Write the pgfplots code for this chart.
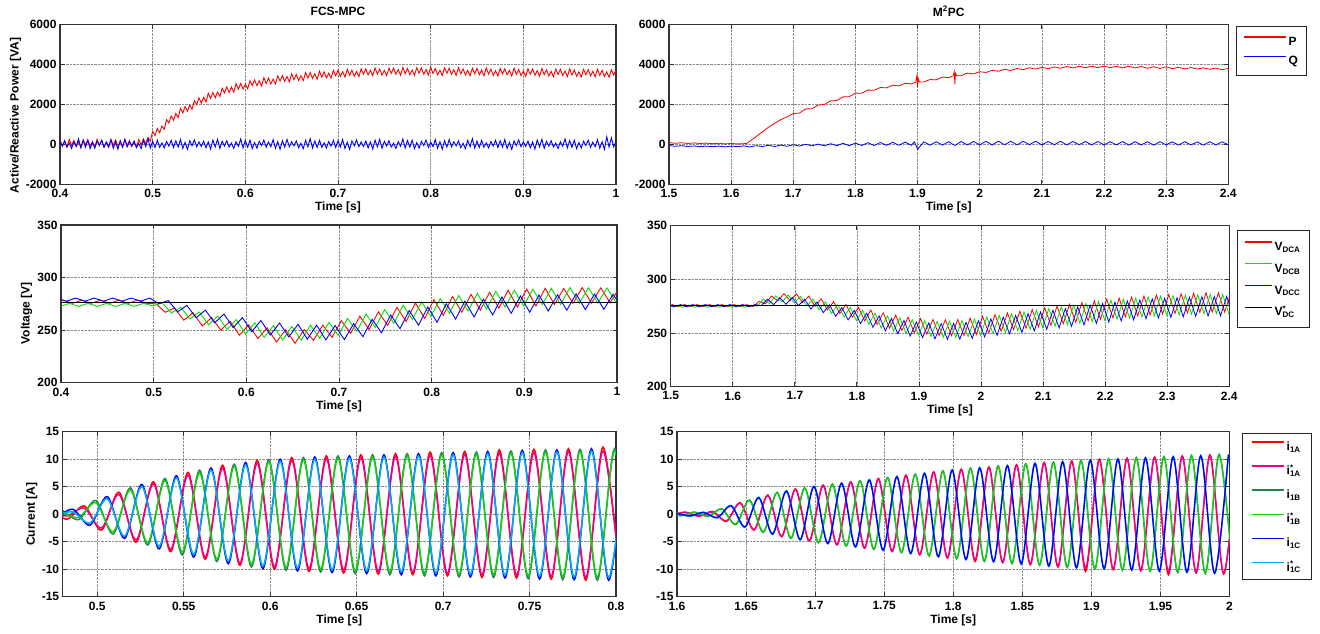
\documentclass[border=0pt]{standalone}
\usepackage{fontspec}
\setmainfont{Liberation Sans}
\usepackage{pgfplots}
\usepackage{pgfplotstable}
\pgfplotsset{compat=1.18}

\definecolor{vgreen}{RGB}{0,225,0}
\definecolor{dkgreen}{RGB}{40,130,80}
\definecolor{igreen}{RGB}{20,205,20}

% ---------- active / reactive power, FCS-MPC ----------
\pgfplotstableread{
t p q
0.4000 220 150
0.4025 -90 -90
0.4050 140 180
0.4075 -140 -140
0.4100 250 60
0.4125 -60 -210
0.4150 190 130
0.4175 -120 -100
0.4200 110 270
0.4225 -150 -180
0.4250 230 190
0.4275 -40 -150
0.4300 220 210
0.4325 -90 -220
0.4350 140 90
0.4375 -140 -190
0.4400 250 150
0.4425 -60 -60
0.4450 190 210
0.4475 -120 -150
0.4500 110 110
0.4525 -150 -120
0.4550 230 230
0.4575 -40 -200
0.4600 220 130
0.4625 -90 -250
0.4650 140 180
0.4675 -140 -140
0.4700 250 240
0.4725 -60 -130
0.4750 190 130
0.4775 -120 -80
0.4800 110 170
0.4825 -145 -170
0.4850 240 50
0.4875 -30 -220
0.4900 270 200
0.4925 35 -120
0.4950 340 280
0.4975 160 -190
0.5000 650 160
0.5025 440 -160
0.5050 790 200
0.5075 580 -150
0.5100 910 70
0.5125 750 -180
0.5150 1230 140
0.5175 1060 -90
0.5200 1420 200
0.5225 1210 -160
0.5250 1540 180
0.5275 1335 -140
0.5300 1800 240
0.5325 1565 -210
0.5350 1890 100
0.5375 1655 -260
0.5400 1960 170
0.5425 1750 -70
0.5450 2180 220
0.5475 1985 -120
0.5500 2320 120
0.5525 2060 -110
0.5550 2340 160
0.5575 2110 -180
0.5600 2550 120
0.5625 2290 -240
0.5650 2590 210
0.5675 2330 -130
0.5700 2610 250
0.5725 2385 -200
0.5750 2800 150
0.5775 2570 -90
0.5800 2870 180
0.5825 2595 -140
0.5850 2860 60
0.5875 2610 -210
0.5900 3030 130
0.5925 2755 -100
0.5950 3040 270
0.5975 2755 -180
0.6000 3010 190
0.6025 2775 -150
0.6050 3180 210
0.6075 2935 -220
0.6100 3220 90
0.6125 2930 -190
0.6150 3180 150
0.6175 2920 -60
0.6200 3330 210
0.6225 3040 -150
0.6250 3310 110
0.6275 3015 -120
0.6300 3260 230
0.6325 3020 -200
0.6350 3420 130
0.6375 3165 -250
0.6400 3440 180
0.6425 3145 -140
0.6450 3390 240
0.6475 3120 -130
0.6500 3520 130
0.6525 3225 -80
0.6550 3490 170
0.6575 3190 -170
0.6600 3430 50
0.6625 3185 -220
0.6650 3580 200
0.6675 3320 -120
0.6700 3590 280
0.6725 3290 -190
0.6750 3530 160
0.6775 3260 -160
0.6800 3660 200
0.6825 3360 -150
0.6850 3620 70
0.6875 3320 -180
0.6900 3560 140
0.6925 3310 -90
0.6950 3695 200
0.6975 3430 -160
0.7000 3700 180
0.7025 3395 -140
0.7050 3630 240
0.7075 3360 -210
0.7100 3755 100
0.7125 3450 -260
0.7150 3705 170
0.7175 3400 -70
0.7200 3640 220
0.7225 3385 -120
0.7250 3770 120
0.7275 3505 -110
0.7300 3770 160
0.7325 3465 -180
0.7350 3700 120
0.7375 3425 -240
0.7400 3820 210
0.7425 3515 -130
0.7450 3765 250
0.7475 3460 -200
0.7500 3690 150
0.7525 3435 -90
0.7550 3815 180
0.7575 3550 -140
0.7600 3810 60
0.7625 3500 -210
0.7650 3735 130
0.7675 3455 -100
0.7700 3845 270
0.7725 3535 -180
0.7750 3790 190
0.7775 3480 -150
0.7800 3710 210
0.7825 3450 -220
0.7850 3830 90
0.7875 3560 -190
0.7900 3820 150
0.7925 3510 -60
0.7950 3740 210
0.7975 3460 -150
0.8000 3850 110
0.8025 3539 -120
0.8050 3788 230
0.8075 3476 -200
0.8100 3705 130
0.8125 3444 -250
0.8150 3822 180
0.8175 3551 -140
0.8200 3810 240
0.8225 3499 -130
0.8250 3727 130
0.8275 3446 -80
0.8300 3835 170
0.8325 3524 -170
0.8350 3772 50
0.8375 3461 -220
0.8400 3690 200
0.8425 3429 -120
0.8450 3807 280
0.8475 3536 -190
0.8500 3795 160
0.8525 3484 -160
0.8550 3712 200
0.8575 3431 -150
0.8600 3820 70
0.8625 3509 -180
0.8650 3757 140
0.8675 3446 -90
0.8700 3675 200
0.8725 3414 -160
0.8750 3792 180
0.8775 3521 -140
0.8800 3780 240
0.8825 3469 -210
0.8850 3697 100
0.8875 3416 -260
0.8900 3805 170
0.8925 3494 -70
0.8950 3742 220
0.8975 3431 -120
0.9000 3660 120
0.9025 3399 -110
0.9050 3777 160
0.9075 3506 -180
0.9100 3765 120
0.9125 3454 -240
0.9150 3682 210
0.9175 3401 -130
0.9200 3790 250
0.9225 3479 -200
0.9250 3727 150
0.9275 3416 -90
0.9300 3645 180
0.9325 3384 -140
0.9350 3762 60
0.9375 3491 -210
0.9400 3750 130
0.9425 3439 -100
0.9450 3667 270
0.9475 3386 -180
0.9500 3775 190
0.9525 3464 -150
0.9550 3712 210
0.9575 3401 -220
0.9600 3630 90
0.9625 3369 -190
0.9650 3747 150
0.9675 3476 -60
0.9700 3735 210
0.9725 3424 -150
0.9750 3652 110
0.9775 3371 -120
0.9800 3760 230
0.9825 3449 -200
0.9850 3697 130
0.9875 3386 -250
0.9900 3615 380
0.9925 3354 -140
0.9950 3732 330
0.9975 3461 -130
1.0000 3720 130
}\pqLeft

% ---------- active / reactive power, M2PC ----------
\pgfplotstableread{
t p
1.500 90
1.510 50
1.520 80
1.530 40
1.540 70
1.550 40
1.560 60
1.570 30
1.580 50
1.590 20
1.600 40
1.610 20
1.620 30
1.625 40
1.630 150
1.640 380
1.650 620
1.660 850
1.670 1050
1.680 1230
1.690 1370
1.700 1540
1.710 1560
1.720 1770
1.730 1780
1.740 1960
1.750 1990
1.760 2170
1.770 2190
1.780 2370
1.790 2380
1.800 2560
1.810 2550
1.820 2710
1.830 2700
1.840 2840
1.850 2820
1.860 2950
1.870 2920
1.880 3050
1.890 3020
1.897 3100
1.899 3450
1.900 2850
1.901 3300
1.903 3110
1.910 3110
1.920 3240
1.930 3220
1.940 3360
1.950 3330
1.957 3420
1.959 3650
1.960 3000
1.961 3550
1.963 3420
1.970 3430
1.980 3560
1.990 3520
2.000 3630
2.010 3590
2.020 3700
2.030 3650
2.040 3750
2.050 3690
2.060 3790
2.070 3730
2.080 3830
2.090 3760
2.100 3850
2.110 3780
2.120 3870
2.130 3800
2.140 3890
2.150 3820
2.160 3900
2.170 3830
2.180 3910
2.190 3830
2.200 3910
2.210 3830
2.220 3900
2.230 3820
2.240 3900
2.250 3820
2.260 3890
2.270 3800
2.280 3880
2.290 3790
2.300 3870
2.310 3780
2.320 3850
2.330 3770
2.340 3840
2.350 3760
2.360 3820
2.370 3750
2.380 3810
2.390 3730
2.400 3790
}\pRight

\pgfplotstableread{
t q
1.50 -60
1.51 -100
1.52 -70
1.53 -110
1.54 -80
1.55 -120
1.56 -90
1.57 -120
1.58 -90
1.59 -130
1.60 -90
1.61 -120
1.62 -80
1.63 -130
1.64 -70
1.65 -110
1.66 -50
1.67 -110
1.68 -40
1.69 -100
1.70 -20
1.71 -90
1.72 0
1.73 -80
1.74 10
1.75 -80
1.76 30
1.77 -70
1.78 50
1.79 -70
1.80 60
1.81 -60
1.82 80
1.83 -60
1.84 90
1.85 -50
1.86 100
1.87 -50
1.88 110
1.89 -50
1.895 120
1.90 -250
1.91 120
1.92 -40
1.93 130
1.94 -40
1.95 130
1.96 -60
1.97 140
1.98 -30
1.99 140
2.00 -30
2.01 150
2.02 -30
2.03 150
2.04 -20
2.05 150
2.06 -30
2.07 150
2.08 -20
2.09 150
2.10 -30
2.11 140
2.12 -20
2.13 150
2.14 -30
2.15 140
2.16 -20
2.17 140
2.18 -30
2.19 140
2.20 -30
2.21 130
2.22 -30
2.23 140
2.24 -40
2.25 130
2.26 -30
2.27 130
2.28 -40
2.29 130
2.30 -30
2.31 120
2.32 -40
2.33 130
2.34 -30
2.35 120
2.36 -40
2.37 130
2.38 -30
2.39 120
2.40 -20
}\qRight

% ---------- DC capacitor voltages ----------
\pgfplotstableread{
t v
0.3925 275.5
0.4025 278.5
0.4125 275.5
0.4225 278.5
0.4325 275.5
0.4425 278.5
0.4525 275.5
0.4625 278.5
0.4725 275.5
0.4825 278.5
0.4925 275.5
0.5025 275
0.5125 267
0.5225 271
0.5325 259.5
0.5425 266.5
0.5525 254
0.5625 262
0.5725 250
0.5825 258.5
0.5925 245.2
0.6025 255
0.6125 242
0.6225 252.2
0.6325 238.7
0.6425 250.4
0.6525 237.5
0.6625 250.6
0.6725 240.3
0.6825 254.8
0.6925 243.1
0.7025 259
0.7125 246.9
0.7225 263.2
0.7325 250.7
0.7425 267.4
0.7525 254.5
0.7625 271.6
0.7725 258.3
0.7825 275.8
0.7925 261.1
0.8025 279
0.8125 264
0.8225 282
0.8325 267
0.8425 284
0.8525 269
0.8625 286
0.8725 271
0.8825 288
0.8925 272
0.9025 289
0.9125 273
0.9225 289.8
0.9325 274.3
0.9425 289.6
0.9525 275.5
0.9625 290.4
0.9725 275.7
0.9825 290.2
0.9925 275.9
1.0025 290
}\vaL

\pgfplotstableread{
t v
0.3992 272.5
0.4092 275.5
0.4192 272.5
0.4292 275.5
0.4392 272.5
0.4492 275.5
0.4592 272.5
0.4692 275.5
0.4792 272.5
0.4892 275.5
0.4992 273
0.5092 276
0.5192 266.3
0.5292 271.8
0.5392 260.7
0.5492 267.3
0.5592 255.2
0.5692 263.4
0.5792 250.7
0.5892 260
0.5992 246.2
0.6092 257
0.6192 243
0.6292 254.3
0.6392 240.6
0.6492 253.5
0.6592 240.4
0.6692 254.7
0.6792 242.2
0.6892 257.4
0.6992 245
0.7092 261.1
0.7192 248.8
0.7292 265.3
0.7392 252.6
0.7492 269.5
0.7592 256.4
0.7692 273.7
0.7792 260.2
0.7892 276.9
0.7992 263
0.8092 280
0.8192 266
0.8292 283
0.8392 268
0.8492 285
0.8592 270
0.8692 287
0.8792 272
0.8892 288
0.8992 273
0.9092 289
0.9192 274.2
0.9292 289.7
0.9392 274.4
0.9492 290.5
0.9592 275.6
0.9692 290.3
0.9792 275.8
0.9892 290.1
0.9992 276
1.0092 290
}\vbL

\pgfplotstableread{
t v
0.3958 280.5
0.4058 277.5
0.4158 280.5
0.4258 277.5
0.4358 280.5
0.4458 277.5
0.4558 280.5
0.4658 277.5
0.4758 280.5
0.4858 277.5
0.4958 280.5
0.5058 275.1
0.5158 278.1
0.5258 267.4
0.5358 273.5
0.5458 261.8
0.5558 269
0.5658 256.9
0.5758 265.3
0.5858 252.4
0.5958 261.9
0.6058 248.5
0.6158 259.1
0.6258 245.3
0.6358 256.8
0.6458 243.6
0.6558 255.5
0.6658 241.4
0.6758 254.7
0.6858 240.7
0.6958 254.4
0.7058 241
0.7158 256.1
0.7258 243.8
0.7358 260.3
0.7458 247.6
0.7558 264.5
0.7658 251.4
0.7758 268.7
0.7858 254.7
0.7958 271.9
0.8058 257.5
0.8158 275
0.8258 260.5
0.8358 277.5
0.8458 262.5
0.8558 279.5
0.8658 264.5
0.8758 281.5
0.8858 266
0.8958 282.5
0.9058 267
0.9158 283.4
0.9258 268.2
0.9358 283.7
0.9458 268.9
0.9558 284.5
0.9658 269.6
0.9758 284.3
0.9858 269.8
0.9958 284.1
1.0058 270
}\vcL

\pgfplotstableread{
t v
1.4925 274.5
1.5025 276.5
1.5125 274.5
1.5225 276.5
1.5325 274.5
1.5425 276.5
1.5525 274.5
1.5625 276.5
1.5725 274.5
1.5825 276.5
1.5925 274.5
1.6025 276.5
1.6125 274.5
1.6225 276.5
1.6325 274.5
1.6425 279.5
1.6525 277.3
1.6625 284.5
1.6725 279.9
1.6825 286.7
1.6925 280.1
1.7025 286.5
1.7125 278.3
1.7225 284.4
1.7325 274.9
1.7425 281.8
1.7525 271.5
1.7625 279.2
1.7725 268.1
1.7825 276.6
1.7925 264.7
1.8025 274
1.8125 261.3
1.8225 271.4
1.8325 257.9
1.8425 268.8
1.8525 254.5
1.8625 266.6
1.8725 252.3
1.8825 264.8
1.8925 250.1
1.9025 263.5
1.9125 248.9
1.9225 262.7
1.9325 247.7
1.9425 262.4
1.9525 247.5
1.9625 262.6
1.9725 247.8
1.9825 263.8
1.9925 248.6
2.0025 265.5
2.0125 250.2
2.0225 267.1
2.0325 251.6
2.0425 268.7
2.0525 253
2.0625 270.3
2.0725 254.4
2.0825 271.9
2.0925 255.8
2.1025 273.5
2.1125 257.2
2.1225 275.1
2.1325 258.6
2.1425 276.7
2.1525 260
2.1625 278.3
2.1725 261.4
2.1825 279.9
2.1925 262.8
2.2025 281.5
2.2125 264
2.2225 282.5
2.2325 265
2.2425 283.5
2.2525 266
2.2625 284.5
2.2725 267
2.2825 285.5
2.2925 267.8
2.3025 286
2.3125 268.3
2.3225 286.5
2.3325 268.8
2.3425 287
2.3525 269.3
2.3625 287.5
2.3725 269.5
2.3825 287.5
2.3925 269.5
2.4025 287.5
}\vaR

\pgfplotstableread{
t v
1.4992 274
1.5092 276
1.5192 274
1.5292 276
1.5392 274
1.5492 276
1.5592 274
1.5692 276
1.5792 274
1.5892 276
1.5992 274
1.6092 276
1.6192 274
1.6292 276
1.6392 275
1.6492 281.5
1.6592 277.5
1.6692 284.6
1.6792 278.8
1.6892 285.4
1.6992 278
1.7092 284.2
1.7192 275.1
1.7292 281.6
1.7392 271.7
1.7492 279
1.7592 268.3
1.7692 276.4
1.7792 264.9
1.7892 273.8
1.7992 261.5
1.8092 271.2
1.8192 258.1
1.8292 268.6
1.8392 254.7
1.8492 266
1.8592 251.9
1.8692 264.2
1.8792 249.7
1.8892 262.4
1.8992 248
1.9092 261.6
1.9192 246.8
1.9292 260.8
1.9392 246.1
1.9492 261
1.9592 245.9
1.9692 261.7
1.9792 246.7
1.9892 262.9
1.9992 248
2.0092 264.8
2.0192 249.4
2.0292 266.4
2.0392 250.8
2.0492 268
2.0592 252.2
2.0692 269.6
2.0792 253.6
2.0892 271.2
2.0992 255
2.1092 272.8
2.1192 256.4
2.1292 274.4
2.1392 257.8
2.1492 276
2.1592 259.2
2.1692 277.6
2.1792 260.6
2.1892 279.2
2.1992 262
2.2092 280.5
2.2192 263
2.2292 281.5
2.2392 264
2.2492 282.5
2.2592 265
2.2692 283.5
2.2792 266
2.2892 284.3
2.2992 266.5
2.3092 284.8
2.3192 267
2.3292 285.3
2.3392 267.5
2.3492 285.8
2.3592 268
2.3692 286
2.3792 268
2.3892 286
2.3992 268
2.4092 286
}\vbR

\pgfplotstableread{
t v
1.4958 276.5
1.5058 274.5
1.5158 276.5
1.5258 274.5
1.5358 276.5
1.5458 274.5
1.5558 276.5
1.5658 274.5
1.5758 276.5
1.5858 274.5
1.5958 276.5
1.6058 274.5
1.6158 276.5
1.6258 274.5
1.6358 276.5
1.6458 275.5
1.6558 281.5
1.6658 276.5
1.6758 282.9
1.6858 276.8
1.6958 283.2
1.7058 275.5
1.7158 281.5
1.7258 272.4
1.7358 278.9
1.7458 269
1.7558 276.3
1.7658 265.6
1.7758 273.7
1.7858 262.2
1.7958 271.1
1.8058 258.8
1.8158 268.5
1.8258 255.4
1.8358 265.9
1.8458 252
1.8558 263.5
1.8658 249.4
1.8758 261.7
1.8858 247.2
1.8958 260.2
1.9058 245.8
1.9158 259.4
1.9258 244.6
1.9358 258.8
1.9458 244.1
1.9558 259
1.9658 244.2
1.9758 260
1.9858 245
1.9958 261.4
2.0058 246.4
2.0158 263.2
2.0258 247.8
2.0358 264.8
2.0458 249.2
2.0558 266.4
2.0658 250.6
2.0758 268
2.0858 252
2.0958 269.6
2.1058 253.4
2.1158 271.2
2.1258 254.8
2.1358 272.8
2.1458 256.2
2.1558 274.4
2.1658 257.6
2.1758 276
2.1858 259
2.1958 277.6
2.2058 260.3
2.2158 278.8
2.2258 261.3
2.2358 279.8
2.2458 262.3
2.2558 280.8
2.2658 263.3
2.2758 281.8
2.2858 264.1
2.2958 282.4
2.3058 264.6
2.3158 282.9
2.3258 265.1
2.3358 283.4
2.3458 265.6
2.3558 283.9
2.3658 266
2.3758 284
2.3858 266
2.3958 284
2.4058 266
}\vcR

% ---------- phase currents: t, reference, measured ----------
\pgfplotstableread{
t r m
0.4725 0.2 0.9
0.4825 -0.3 -0.9
0.4925 1.1 1.5
0.5025 -2.5 -2.9
0.5125 3.6 4.0
0.5225 -4.7 -5.1
0.5325 5.5 5.9
0.5425 -6.4 -6.8
0.5525 7.1 7.6
0.5625 -7.8 -8.2
0.5725 8.4 8.9
0.5825 -8.9 -9.3
0.5925 9.3 9.8
0.6025 -9.6 -10.0
0.6125 9.8 10.3
0.6225 -9.9 -10.4
0.6325 10.1 10.6
0.6425 -10.2 -10.7
0.6525 10.3 10.8
0.6625 -10.4 -10.9
0.6725 10.5 11.0
0.6825 -10.6 -11.0
0.6925 10.7 11.3
0.7025 -10.8 -11.2
0.7125 10.9 11.4
0.7225 -11.0 -11.5
0.7325 11.1 11.7
0.7425 -11.1 -11.6
0.7525 11.2 11.8
0.7625 -11.3 -11.8
0.7725 11.4 11.9
0.7825 -11.5 -12.0
0.7925 11.5 12.2
0.8025 -11.5 -12.0
}\iaL

\pgfplotstableread{
t r m
0.4792 0.3 0.9
0.4892 -0.6 -1.0
0.4992 2.1 2.5
0.5092 -3.2 -3.6
0.5192 4.4 4.8
0.5292 -5.2 -5.6
0.5392 6.1 6.5
0.5492 -6.9 -7.4
0.5592 7.5 8.0
0.5692 -8.2 -8.6
0.5792 8.7 9.1
0.5892 -9.1 -9.6
0.5992 9.5 9.9
0.6092 -9.7 -10.2
0.6192 9.9 10.3
0.6292 -10.0 -10.5
0.6392 10.2 10.6
0.6492 -10.3 -10.8
0.6592 10.4 10.8
0.6692 -10.5 -11.0
0.6792 10.6 11.0
0.6892 -10.7 -11.2
0.6992 10.8 11.2
0.7092 -10.9 -11.4
0.7192 10.9 11.3
0.7292 -11.0 -11.5
0.7392 11.1 11.5
0.7492 -11.2 -11.7
0.7592 11.3 11.7
0.7692 -11.4 -11.9
0.7792 11.4 11.8
0.7892 -11.5 -12.0
0.7992 11.5 11.9
0.8092 -11.5 -12.0
}\ibL

\pgfplotstableread{
t r m
0.4758 -0.2 -0.8
0.4858 0.4 0.9
0.4958 -1.6 -2.0
0.5058 2.8 3.2
0.5158 -4.0 -4.4
0.5258 5.0 5.4
0.5358 -5.8 -6.3
0.5458 6.6 7.0
0.5558 -7.3 -7.8
0.5658 8.0 8.4
0.5758 -8.5 -9.0
0.5858 9.0 9.4
0.5958 -9.4 -9.9
0.6058 9.6 10.0
0.6158 -9.8 -10.3
0.6258 10.0 10.4
0.6358 -10.1 -10.6
0.6458 10.2 10.6
0.6558 -10.3 -10.8
0.6658 10.4 10.8
0.6758 -10.5 -11.0
0.6858 10.6 11.0
0.6958 -10.7 -11.2
0.7058 10.8 11.2
0.7158 -10.9 -11.4
0.7258 11.0 11.4
0.7358 -11.1 -11.6
0.7458 11.2 11.6
0.7558 -11.3 -11.8
0.7658 11.3 11.7
0.7758 -11.4 -11.9
0.7858 11.5 11.9
0.7958 -11.5 -12.0
0.8058 11.5 11.9
}\icL

\pgfplotstableread{
t r m
1.5958 -0.2 -0.3
1.6058 0.3 0.4
1.6158 -0.3 -0.4
1.6258 0.4 0.5
1.6358 -1.2 -1.3
1.6458 2.0 2.1
1.6558 -2.8 -2.9
1.6658 3.4 3.5
1.6758 -4.0 -4.1
1.6858 4.5 4.6
1.6958 -4.8 -4.9
1.7058 5.2 5.3
1.7158 -5.5 -5.6
1.7258 5.8 5.9
1.7358 -6.1 -6.2
1.7458 6.4 6.5
1.7558 -6.7 -6.8
1.7658 7.0 7.1
1.7758 -7.3 -7.4
1.7858 7.6 7.7
1.7958 -7.9 -8.0
1.8058 8.1 8.2
1.8158 -8.3 -8.6
1.8258 8.5 8.6
1.8358 -8.7 -8.8
1.8458 8.9 9.0
1.8558 -9.1 -9.2
1.8658 9.3 9.4
1.8758 -9.5 -9.6
1.8858 9.6 9.7
1.8958 -9.8 -10.4
1.9058 9.9 10.0
1.9158 -10.0 -10.1
1.9258 10.1 10.2
1.9358 -10.2 -10.3
1.9458 10.3 10.4
1.9558 -10.4 -11.0
1.9658 10.5 10.6
1.9758 -10.6 -10.7
1.9858 10.7 10.8
1.9958 -10.8 -10.9
2.0058 10.8 10.9
}\iaR

\pgfplotstableread{
t r m
1.5925 0.2 0.3
1.6025 -0.2 -0.3
1.6125 0.3 0.4
1.6225 -0.3 -0.4
1.6325 0.9 1.0
1.6425 -1.8 -1.9
1.6525 2.5 2.6
1.6625 -3.2 -3.3
1.6725 3.9 4.0
1.6825 -4.3 -4.4
1.6925 4.7 4.8
1.7025 -5.1 -5.2
1.7125 5.4 5.5
1.7225 -5.7 -5.8
1.7325 6.0 6.1
1.7425 -6.3 -6.4
1.7525 6.6 6.7
1.7625 -6.9 -7.0
1.7725 7.2 7.3
1.7825 -7.5 -7.6
1.7925 7.8 7.9
1.8025 -8.0 -8.1
1.8125 8.3 8.4
1.8225 -8.5 -8.6
1.8325 8.7 8.8
1.8425 -8.9 -9.0
1.8525 9.1 9.2
1.8625 -9.2 -9.3
1.8725 9.4 9.5
1.8825 -9.6 -9.7
1.8925 9.7 9.8
1.9025 -9.9 -10.0
1.9125 10.0 10.1
1.9225 -10.1 -10.2
1.9325 10.2 10.3
1.9425 -10.3 -10.4
1.9525 10.4 10.5
1.9625 -10.5 -10.6
1.9725 10.6 10.7
1.9825 -10.7 -10.8
1.9925 10.8 10.9
2.0025 -10.8 -10.9
}\ibR

\pgfplotstableread{
t r m
1.5992 0.2 0.3
1.6092 -0.3 -0.4
1.6192 0.3 0.4
1.6292 -0.6 -0.7
1.6392 1.5 1.6
1.6492 -2.3 -2.4
1.6592 3.0 3.1
1.6692 -3.6 -3.7
1.6792 4.2 4.3
1.6892 -4.6 -4.7
1.6992 5.0 5.1
1.7092 -5.3 -5.4
1.7192 5.6 5.7
1.7292 -5.9 -6.0
1.7392 6.2 6.3
1.7492 -6.5 -6.6
1.7592 6.8 6.9
1.7692 -7.1 -7.2
1.7792 7.4 7.5
1.7892 -7.7 -7.8
1.7992 8.0 8.1
1.8092 -8.2 -8.3
1.8192 8.4 8.5
1.8292 -8.6 -8.7
1.8392 8.8 8.9
1.8492 -9.0 -9.1
1.8592 9.2 9.3
1.8692 -9.4 -9.5
1.8792 9.5 9.6
1.8892 -9.7 -9.8
1.8992 9.8 9.9
1.9092 -9.9 -10.0
1.9192 10.0 10.1
1.9292 -10.1 -10.2
1.9392 10.2 10.3
1.9492 -10.3 -10.4
1.9592 10.4 10.5
1.9692 -10.5 -10.6
1.9792 10.6 10.7
1.9892 -10.7 -10.8
1.9992 10.8 10.9
}\icR

\pgfplotsset{
  panel/.style={
    scale only axis, anchor=south west,
    axis line style={line width=1.1pt, black!80},
    tick align=inside, major tick length=4.5pt,
    tick style={line width=0.9pt, black!80},
    grid=major, grid style={densely dotted, line width=0.6pt, black!45},
    ticklabel style={font=\fontsize{12}{14}\selectfont\bfseries},
    xticklabel style={yshift=-1.5pt},
    /pgf/number format/assume math mode=true,
    /pgf/number format/1000 sep={},
    scaled ticks=false,
    label style={font=\fontsize{12}{14}\selectfont\bfseries},
    xlabel={Time [s]},
    xlabel style={at={(axis description cs:0.5,0)}, anchor=center, yshift=-23.5pt},
    title style={font=\fontsize{12}{14}\selectfont\bfseries, anchor=center, yshift=7pt},
    legend cell align=left,
  },
  leg/.style 2 args={
    legend style={at={(rel axis cs:1,1)}, anchor=north west,
      draw=black!85, line width=1pt,
      font=\fontsize{12}{14}\selectfont\bfseries,
      inner xsep=6.5pt, inner ysep=#2, column sep=0pt, row sep=#1},
  },
}
% uniform row height for every legend text
\newcommand{\lstrut}{\rule[-4pt]{0pt}{14pt}}

\begin{document}
\begin{tikzpicture}
\useasboundingbox (0,0) rectangle (1320pt,634pt);

% row 1, left
\begin{axis}[panel, at={(60pt,449.7pt)}, width=556pt, height=160pt,
  xmin=0.4, xmax=1, ymin=-2000, ymax=6000,
  xtick={0.4,0.5,0.6,0.7,0.8,0.9,1}, ytick={-2000,0,2000,4000,6000},
  ylabel={Active/Reactive Power [VA]},
  ylabel style={at={(axis description cs:-0.080,0.43)}, anchor=center},
  title={FCS-MPC}]
\addplot[red, line width=0.9pt] table[x=t, y=p] {\pqLeft};
\addplot[blue, line width=0.9pt] table[x=t, y=q] {\pqLeft};
\end{axis}

% row 1, right
\begin{axis}[panel, leg={3.7pt}{7.5pt}, at={(669pt,449.7pt)}, width=559.3pt, height=160pt,
  xmin=1.5, xmax=2.4, ymin=-2000, ymax=6000,
  xtick={1.5,1.6,1.7,1.8,1.9,2,2.1,2.2,2.3,2.4}, ytick={-2000,0,2000,4000,6000},
  legend style={xshift=7.7pt, yshift=-1.4pt},
  legend image code/.code={\draw[#1] (0pt,4.3pt) -- (42pt,4.3pt);},
  title={M\textsuperscript{2}PC}]
\addplot[red, line width=0.8pt, forget plot] table[x=t, y=p] {\pRight};
\addplot[blue, line width=0.8pt, forget plot] table[x=t, y=q] {\qRight};
\addlegendimage{red, line width=1.5pt}
\addlegendentry{\lstrut P}
\addlegendimage{blue, line width=1.5pt}
\addlegendentry{\lstrut Q}
\end{axis}

% row 2, left
\begin{axis}[panel, at={(61pt,251.3pt)}, width=556pt, height=157.7pt,
  xmin=0.4, xmax=1, ymin=200, ymax=350,
  xtick={0.4,0.5,0.6,0.7,0.8,0.9,1}, ytick={200,250,300,350},
  ylabel={Voltage [V]},
  ylabel style={at={(axis description cs:-0.062,0.44)}, anchor=center}]
\addplot[red, line width=0.9pt] table[x=t, y=v] {\vaL};
\addplot[vgreen, line width=0.9pt] table[x=t, y=v] {\vbL};
\addplot[blue, line width=0.9pt] table[x=t, y=v] {\vcL};
\addplot[black, line width=1.1pt] coordinates {(0.4,276) (1,276)};
\end{axis}

% row 2, right
\begin{axis}[panel, leg={6.3pt}{8pt}, at={(670.7pt,247.3pt)}, width=558.6pt, height=161pt,
  xmin=1.5, xmax=2.4, ymin=200, ymax=350,
  xtick={1.5,1.6,1.7,1.8,1.9,2,2.1,2.2,2.3,2.4}, ytick={200,250,300,350},
  legend style={xshift=7.4pt, yshift=-4.3pt, inner xsep=6.8pt},
  legend image code/.code={\draw[#1] (0pt,4.3pt) -- (27pt,4.3pt);}]
\addplot[red, line width=0.8pt, forget plot] table[x=t, y=v] {\vaR};
\addplot[vgreen, line width=0.8pt, forget plot] table[x=t, y=v] {\vbR};
\addplot[blue, line width=0.8pt, forget plot] table[x=t, y=v] {\vcR};
\addplot[black, line width=1pt, forget plot] coordinates {(1.5,276) (2.4,276)};
\addlegendimage{red, line width=1.5pt}
\addlegendentry{\lstrut V\textsubscript{DCA}}
\addlegendimage{vgreen, line width=1.5pt}
\addlegendentry{\lstrut V\textsubscript{DCB}}
\addlegendimage{blue, line width=1.5pt}
\addlegendentry{\lstrut V\textsubscript{DCC}}
\addlegendimage{black, line width=1.5pt}
\addlegendentry{\lstrut V\rlap{\textsuperscript{*}}\textsubscript{DC}}
\end{axis}

% row 3, left
\begin{axis}[panel, at={(62.7pt,37.3pt)}, width=553.3pt, height=165pt,
  xmin=0.48, xmax=0.8, ymin=-15, ymax=15,
  xtick={0.5,0.55,0.6,0.65,0.7,0.75,0.8}, ytick={-15,-10,-5,0,5,10,15},
  ylabel={Current [A]},
  ylabel style={at={(axis description cs:-0.056,0.5)}, anchor=center}]
\addplot[red, smooth, line width=1.5pt] table[x=t, y=m] {\iaL};
\addplot[magenta, smooth, line width=1.5pt] table[x=t, y=r] {\iaL};
\addplot[dkgreen, smooth, line width=1.5pt] table[x=t, y=m] {\ibL};
\addplot[igreen, smooth, line width=1.5pt] table[x=t, y=r] {\ibL};
\addplot[blue, smooth, line width=1.5pt] table[x=t, y=m] {\icL};
\addplot[cyan, smooth, line width=1.5pt] table[x=t, y=r] {\icL};
\end{axis}

% row 3, right
\begin{axis}[panel, leg={8.6pt}{5.3pt}, at={(677pt,37.3pt)}, width=552.5pt, height=165pt,
  xmin=1.6, xmax=2, ymin=-15, ymax=15,
  xtick={1.6,1.65,1.7,1.75,1.8,1.85,1.9,1.95,2}, ytick={-15,-10,-5,0,5,10,15},
  legend style={xshift=12.2pt, yshift=-1pt, inner xsep=9pt},
  legend image code/.code={\draw[#1] (0pt,4.3pt) -- (32pt,4.3pt);}]
\addplot[red, smooth, line width=1.4pt, forget plot] table[x=t, y=m] {\iaR};
\addplot[magenta, smooth, line width=1.4pt, forget plot] table[x=t, y=r] {\iaR};
\addplot[dkgreen, smooth, line width=1.4pt, forget plot] table[x=t, y=m] {\ibR};
\addplot[igreen, smooth, line width=1.4pt, forget plot] table[x=t, y=r] {\ibR};
\addplot[cyan, smooth, line width=1.4pt, forget plot] table[x=t, y=m] {\icR};
\addplot[blue, smooth, line width=1.4pt, forget plot] table[x=t, y=r] {\icR};
\addlegendimage{red, line width=1.5pt}
\addlegendentry{\lstrut i\textsubscript{1A}}
\addlegendimage{magenta, line width=1.5pt}
\addlegendentry{\lstrut i\rlap{\textsuperscript{*}}\textsubscript{1A}}
\addlegendimage{dkgreen, line width=1.5pt}
\addlegendentry{\lstrut i\textsubscript{1B}}
\addlegendimage{igreen, line width=1.5pt}
\addlegendentry{\lstrut i\rlap{\textsuperscript{*}}\textsubscript{1B}}
\addlegendimage{blue, line width=1.5pt}
\addlegendentry{\lstrut i\textsubscript{1C}}
\addlegendimage{cyan, line width=1.5pt}
\addlegendentry{\lstrut i\rlap{\textsuperscript{*}}\textsubscript{1C}}
\end{axis}
\end{tikzpicture}
\end{document}
